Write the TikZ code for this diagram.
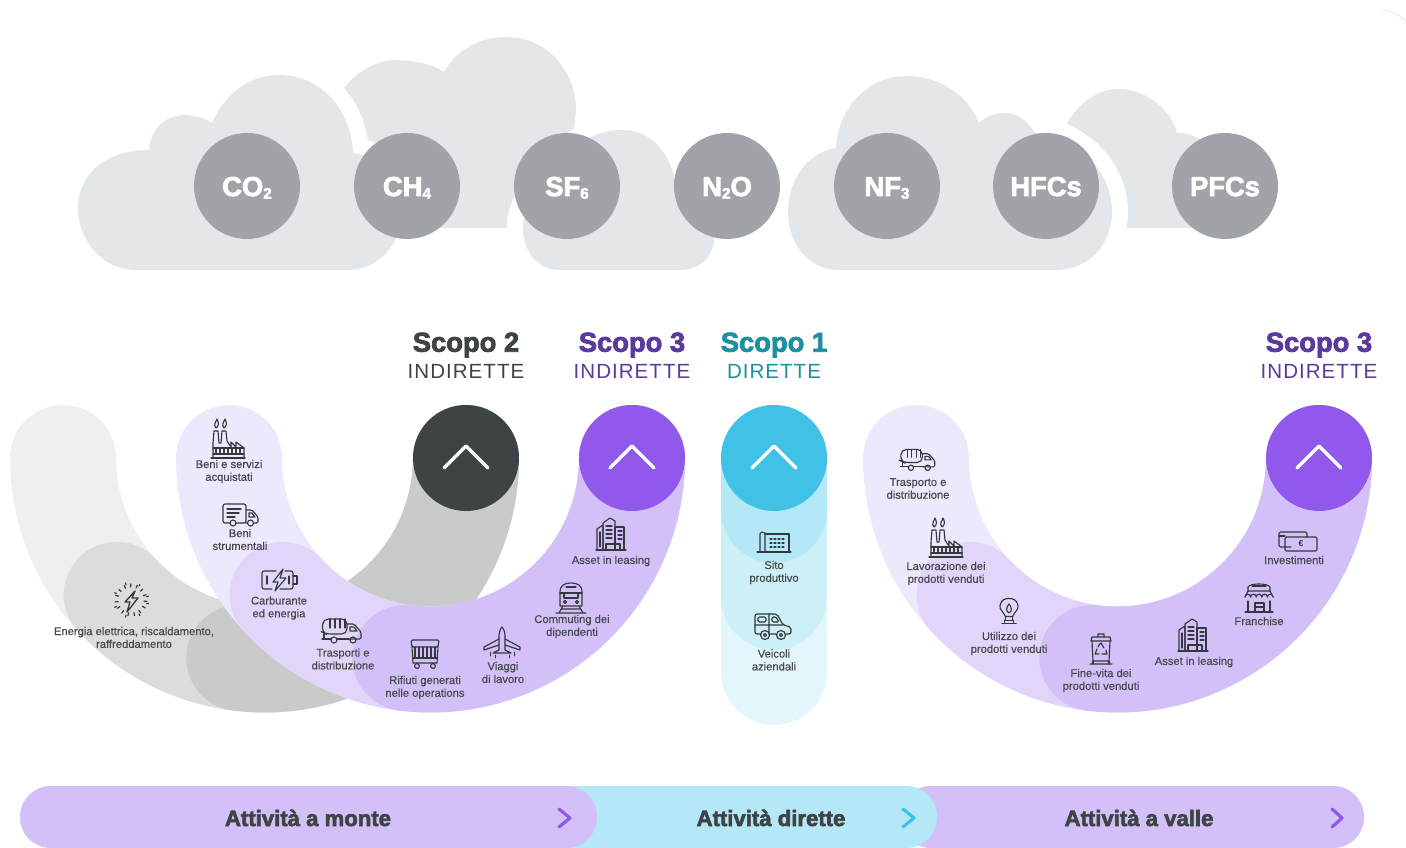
\documentclass[tikz,border=0pt]{standalone}
\usepackage{fontspec}
\setmainfont{Liberation Sans}
\newfontfamily\heavy[FakeBold=2.8]{Liberation Sans Bold}
\newfontfamily\lab[FakeBold=0.3]{Liberation Sans}
\definecolor{cloudc}{HTML}{E4E7EA}
\definecolor{gasc}{HTML}{A0A3A8}
\definecolor{gl}{HTML}{EEEFEF}
\definecolor{gm}{HTML}{DBDCDC}
\definecolor{gd}{HTML}{C9CBCA}
\definecolor{darkc}{HTML}{3E4345}
\definecolor{pl}{HTML}{EEE8FC}
\definecolor{pm}{HTML}{E1D6FA}
\definecolor{pd}{HTML}{D4C0F8}
\definecolor{pc}{HTML}{9059EC}
\definecolor{cl}{HTML}{E3F6FC}
\definecolor{cm}{HTML}{CDEFF8}
\definecolor{cd}{HTML}{B5E8F6}
\definecolor{cc}{HTML}{40C2E6}
\definecolor{tpurple}{HTML}{5B3A9E}
\definecolor{tteal}{HTML}{1E8FA0}
\definecolor{ink}{HTML}{33383B}
\definecolor{labc}{HTML}{44494C}
\definecolor{faint}{HTML}{E6E6E6}
\newcommand{\subs}[1]{\raisebox{-2pt}{\fontsize{11.5}{11.5}\selectfont #1}}
\newcommand{\gt}[1]{\raisebox{-7.5pt}[0pt][0pt]{#1}}
\tikzset{
 band/.style={line width=79.5pt,line cap=round,line join=round},
 gas/.style={circle,fill=gasc,minimum size=79.5pt,inner sep=0pt,text=white,font=\heavy\fontsize{20.5}{21}\selectfont},
 knob/.style={circle,minimum size=79.5pt,inner sep=0pt},
 vee/.style={draw=white,line width=2.6pt,line cap=round,line join=round},
 halo/.style={draw=white,line width=24pt,line join=round},
 cloudp/.style={fill=cloudc},
 lbl/.style={align=center,inner sep=0pt,text=labc,font=\lab\fontsize{8.4}{9.6}\selectfont},
 head/.style={inner sep=0pt,font=\heavy\fontsize{20.5}{22}\selectfont},
 sub/.style={inner sep=0pt,font=\addfontfeatures{LetterSpace=5}\fontsize{15.4}{16}\selectfont},
 barlab/.style={inner sep=0pt,text=darkc,font=\heavy\fontsize{16.6}{17}\selectfont},
 chev/.style={line width=2.4pt,line cap=round,line join=round},
 ico/.style={draw=ink,line width=0.85pt,line cap=round,line join=round},
}
\newcommand{\uband}[3]{\draw[band,draw=#1] plot[domain=#3:0,samples=70,variable=\t] ({#2+201.5*cos(\t)},{458+201.5*sin(\t)});}
\newcommand{\cloudA}{(136,270) .. controls (102,270) and (78,240) .. (78,208) .. controls (78,176) and (104,150) .. (149,150) .. controls (151,128) and (166,115) .. (185,115) .. controls (196,115) and (206,119) .. (212,123) .. controls (225,93) and (250,75) .. (279,75) .. controls (325,75) and (352,115) .. (353,153) .. controls (385,158) and (401,185) .. (401,213) .. controls (401,245) and (378,270) .. (348,270) -- cycle}
\newcommand{\cloudC}{(560,270) .. controls (538,270) and (523,252) .. (523,228) .. controls (523,205) and (535,190) .. (555,180) .. controls (565,150) and (590,130) .. (622,130) .. controls (650,130) and (668,150) .. (675,180) .. controls (700,190) and (714,215) .. (714,238) .. controls (714,256) and (700,270) .. (680,270) -- cycle}
\newcommand{\cloudD}{(839,270) .. controls (808,270) and (788,243) .. (788,212) .. controls (788,180) and (808,152) .. (836,148) .. controls (838,108) and (868,76) .. (906,76) .. controls (940,76) and (968,95) .. (979,123) .. controls (986,116) and (996,113) .. (1006,113) .. controls (1018,113) and (1028,122) .. (1035,133) .. controls (1075,135) and (1112,170) .. (1112,212) .. controls (1112,245) and (1088,270) .. (1056,270) -- cycle}
\newcommand{\icofactory}[2]{\begin{scope}[shift={(#1,#2)},ico]
 \draw (-17,19)--(17,19);
 \draw (-15,19)--(-15,4)--(-14,-8)--(-10,-8)--(-9,4)--(-7,4)--(-6,-8)--(-2,-8)--(-1,2)--(3,8)--(3,3)--(8,8)--(8,3)--(16,9)--(16,19);
 \draw (-15,9)--(16,9) (-15,15)--(16,15);
 \foreach \i in {-12,-8,...,14}{\draw (\i,10.5)--(\i,13.5);}
 \draw (-12,-11) .. controls (-15,-14) and (-12,-17) .. (-11,-20) .. controls (-9,-16) and (-9,-13) .. (-12,-11);
 \draw (-4,-11) .. controls (-7,-14) and (-4,-17) .. (-3,-20) .. controls (-1,-16) and (-1,-13) .. (-4,-11);
\end{scope}}
\newcommand{\icotruck}[2]{\begin{scope}[shift={(#1,#2)},ico]
 \draw[rounded corners=1.5pt] (-10,9)--(-17,9)--(-17,-10)--(6,-10)--(6,9)--(-4,9);
 \draw[rounded corners=1pt] (6,-4)--(12,-4)--(18,3)--(18,9)--(14,9) (6,9)--(7,9);
 \draw (-7,9) circle (3) (10.5,9) circle (3);
 \draw (-13,-5)--(1,-5) (-13,-1)--(-1,-1) (-13,3)--(-5,3);
 \draw (9,-1)--(12,-1)--(15,3)--(9,3)--cycle;
\end{scope}}
\newcommand{\icogarbage}[3][1]{\begin{scope}[shift={(#2,#3)},scale=#1,ico]
 \draw[rounded corners=4pt] (-16,4)--(-20,2)--(-19,-11)--(5,-11)--(5,4)--cycle;
 \foreach \i in {-12,-7,...,3}{\draw (\i,-11)--(\i,-2);}
 \draw[rounded corners=1pt] (5,-6)--(12,-6)--(19,2)--(19,9)--(5,9);
 \draw (8,-3)--(12,-3)--(15,1)--(8,1)--cycle;
 \draw (-20,9)--(-11,9) (-5,9)--(7,9) (-18,4)--(-18,9);
 \draw (-8,10) circle (3) (11,10) circle (3);
\end{scope}}
\newcommand{\icobattery}[2]{\begin{scope}[shift={(#1,#2)},ico]
 \draw[rounded corners=1.5pt] (-3,-9)--(-17,-9)--(-17,9)--(-7,9) (6,-9)--(14,-9)--(14,9)--(1,9);
 \draw (14,-4)--(18,-4)--(18,4)--(14,4);
 \draw (4,-11)--(-6,2)--(-1,2)--(-4,11)--(7,-2)--(1,-2)--cycle;
 \draw (-12,-4)--(-12,4) (10,-4)--(10,4);
\end{scope}}
\newcommand{\icoflash}[2]{\begin{scope}[shift={(#1,#2)},ico]
 \foreach \a in {0,24,...,350}{\draw[line width=0.9pt] (\a+5:13)--(\a+5:16);}
 \foreach \a in {12,60,...,350}{\draw (\a:16)--(\a:18);}
 \draw[line width=1pt] (4,-9)--(-6,2)--(-1,2)--(-4,12)--(7,-2)--(1,-2)--cycle;
\end{scope}}
\newcommand{\icodump}[2]{\begin{scope}[shift={(#1,#2)},ico]
 \draw[rounded corners=1pt] (-14,-14)--(14,-14)--(13,-7)--(-13,-7)--cycle;
 \foreach \i in {-10,-6,...,10}{\draw (\i,-7)--(\i,3);}
 \draw (-13,-7)--(-12,9)--(12,9)--(13,-7);
 \draw (-12,4)--(12,4);
 \draw (-8,12) circle (2.4) (8,12) circle (2.4);
\end{scope}}
\newcommand{\icoplane}[2]{\begin{scope}[shift={(#1,#2)},ico]
 \draw (-3,-6) .. controls (-3,-11) and (-1,-14) .. (0,-15) .. controls (1,-14) and (3,-11) .. (3,-6)--(3,8)--(9,11)--(-9,11)--(-3,8)--cycle;
 \draw (-3,-3)--(-18,5)--(-18,8)--(-3,3) (3,-3)--(18,5)--(18,8)--(3,3);
 \draw[line width=0.5pt] (-12,10)--(-12,14) (-7,13)--(-7,16) (7,13)--(7,16) (12,10)--(12,14);
\end{scope}}
\newcommand{\icotrain}[2]{\begin{scope}[shift={(#1,#2)},ico]
 \draw (-11,8)--(-11,-6) .. controls (-11,-13) and (-6,-15) .. (0,-15) .. controls (6,-15) and (11,-13) .. (11,-6)--(11,8)--cycle;
 \draw (-11,-5)--(11,-5) (-5,-11)--(5,-11) (-7,-5)--(-7,0)--(7,0)--(7,-5);
 \draw (-6,4) circle (1.5) (6,4) circle (1.5);
 \draw (-15,15)--(15,15) (-8,8)--(-12,15) (8,8)--(12,15) (-9,11)--(9,11);
\end{scope}}
\newcommand{\icobuilding}[2]{\begin{scope}[shift={(#1,#2)},ico]
 \draw (-14,15)--(-14,-6)--(-8,-10)--(-8,15);
 \draw (-8,15)--(-8,-12)--(-1,-17)--(4,-14)--(4,15);
 \draw (4,15)--(4,-8)--(13,-8)--(13,15);
 \draw (-15,15)--(15,15);
 \draw (-5,15)--(-5,9)--(9,9)--(9,15);
 \foreach \y in {-9,-5,...,6}{\draw (-5,\y)--(1,\y);}
 \foreach \y in {-4,0,...,6}{\draw (7,\y)--(11,\y);}
 \draw (-11,-3)--(-11,12);
\end{scope}}
\newcommand{\icosite}[2]{\begin{scope}[shift={(#1,#2)},ico]
 \draw (-14,10)--(-14,-8) .. controls (-14,-10) and (-11,-11) .. (-9,-9)--(-9,10);
 \draw (-9,-8)--(15,-8)--(15,10);
 \draw (-17,10)--(17,10);
 \foreach \y in {-3,1,5}{\foreach \x in {-4,0,...,10}{\draw (\x,\y)--(\x+2,\y);}}
\end{scope}}
\newcommand{\icocar}[2]{\begin{scope}[shift={(#1,#2)},ico]
 \draw[rounded corners=1.5pt] (-12,7)--(-18,7)--(-18,-13)--(4,-13)--(10,-2)--(18,0)--(18,7)--(13,7) (-3,7)--(3,7);
 \draw[rounded corners=1pt] (-18,-2)--(10,-2) (-4,-13)--(-4,7) (-15,-10)--(-7,-10)--(-7,-5)--(-15,-5)--cycle (-1,-10)--(3,-10)--(6,-5)--(-1,-5)--cycle;
 \draw (-8,8) circle (4.5) (-8,8) circle (1.6) (8,8) circle (4.5) (8,8) circle (1.6);
\end{scope}}
\newcommand{\icomoney}[2]{\begin{scope}[shift={(#1,#2)},ico]
 \draw[rounded corners=1pt] (-7,7)--(-19,7)--(-19,-8)--(9,-8)--(9,-3);
 \draw[rounded corners=1pt] (-13,-3)--(19,-3)--(19,11)--(-13,11)--cycle;
 \draw (-19,-4)--(-13,-4);
 \node[inner sep=0pt,font=\bfseries\fontsize{6.5}{7}\selectfont,text=ink] (eur#1) at (3,4) {€};
\end{scope}}
\newcommand{\icoshop}[2]{\begin{scope}[shift={(#1,#2)},ico]
 \draw (-11,-7)--(-11,-11) .. controls (-9,-15) and (9,-15) .. (11,-11)--(11,-7);
 \draw (-14,-1)--(-11,-7)--(11,-7)--(14,-1);
 \draw (-14,-1) arc[start angle=180,end angle=360,radius=2.8] arc[start angle=180,end angle=360,radius=2.8] arc[start angle=180,end angle=360,radius=2.8] arc[start angle=180,end angle=360,radius=2.8] arc[start angle=180,end angle=360,radius=2.8];
 \draw (-11,3)--(-11,14)--(11,14)--(11,3) (-14,14)--(14,14);
 \draw (-4,14)--(-4,5)--(5,5)--(5,14) (-4,9)--(5,9) (-7,-12)--(7,-12);
\end{scope}}
\newcommand{\icobin}[2]{\begin{scope}[shift={(#1,#2)},ico]
 \draw (-9,-11)--(9,-11)--(10,-7)--(-10,-7)--cycle (-3,-11)--(-3,-14)--(3,-14)--(3,-11);
 \draw (-9,-7)--(-8,13)--(8,13)--(9,-7) (-11,16)--(11,16);
 \draw (-8,13)--(-8,16) (8,13)--(8,16);
 \draw (-2,-3)--(0,-5)--(3,0) (5,2)--(6,6)--(1,6) (-2,6)--(-6,6)--(-4,1)(-3,-1)--(-2,-3);
\end{scope}}
\newcommand{\icobulb}[2]{\begin{scope}[shift={(#1,#2)},scale=0.9,ico]
 \draw (-4,5) .. controls (-6,0) and (-11,-3) .. (-10,-7) .. controls (-9,-14) and (-4,-15) .. (0,-15) .. controls (4,-15) and (9,-14) .. (10,-7) .. controls (11,-3) and (6,0) .. (4,5)--cycle;
 \draw (-4,5)--(-4,9)--(4,9)--(4,5) (-8,13)--(8,13) (-5,9)--(-5,13) (5,9)--(5,13);
 \draw (0,1) .. controls (-4,-1) and (-3,-5) .. (0,-9) .. controls (3,-5) and (4,-1) .. (0,1);
\end{scope}}
\begin{document}
\begin{tikzpicture}[x=0.75pt,y=-0.75pt]
\useasboundingbox (0,0) rectangle (1406,848);
\fill[white] (0,0) rectangle (1406,848);
\draw[faint,line width=0.6pt] (1383,10) .. controls (1392,11) and (1400,15) .. (1406,22);
% back clouds
\fill[cloudp] (330,115) .. controls (340,80) and (372,60) .. (395,60) .. controls (414,60) and (432,64) .. (444,72) .. controls (456,50) and (480,37) .. (506,37) .. controls (548,37) and (576,72) .. (576,110) -- (573,140) -- (560,228) -- (330,228) -- cycle;
\fill[cloudp] (1060,140) .. controls (1070,108) and (1095,89) .. (1118,89) .. controls (1145,89) and (1170,108) .. (1177,133) .. controls (1190,132) and (1205,140) .. (1215,155) -- (1215,228) -- (1090,228) -- cycle;
% front clouds: white halo first, then the fill
\path[halo] \cloudC; \fill[cloudp] \cloudC;
\path[halo] \cloudA; \fill[cloudp] \cloudA;
\path[halo] \cloudD; \fill[cloudp] \cloudD;
% gas circles
\node[gas] (co) at (247,186) {\gt{CO\subs{2}}};
\node[gas] (ch) at (407,186) {\gt{CH\subs{4}}};
\node[gas] (sf) at (567,186) {\gt{SF\subs{6}}};
\node[gas] (no) at (727,186) {\gt{N\subs{2}O}};
\node[gas] (nf) at (887,186) {\gt{NF\subs{3}}};
\node[gas] (hf) at (1046,186) {\gt{HFCs}};
\node[gas] (pf) at (1225,186) {\gt{PFCs}};
% headers
\node[head,text=darkc] (s2) at (466,345) {Scopo 2};
\node[sub,text=darkc] (s2b) at (466,371) {INDIRETTE};
\node[head,text=tpurple] (s3) at (632,345) {Scopo 3};
\node[sub,text=tpurple] (s3b) at (632,371) {INDIRETTE};
\node[head,text=tteal] (s1) at (774,345) {Scopo 1};
\node[sub,text=tteal] (s1b) at (774,371) {DIRETTE};
\node[head,text=tpurple] (s4) at (1319,345) {Scopo 3};
\node[sub,text=tpurple] (s4b) at (1319,371) {INDIRETTE};
% bands
\uband{gl}{264.5}{180}
\uband{gm}{264.5}{137.2}
\uband{gd}{264.5}{97.2}
\uband{pl}{430.5}{180}
\uband{pm}{430.5}{137.2}
\uband{pd}{430.5}{97.2}
\uband{pl}{1117.5}{180}
\uband{pm}{1117.5}{137.2}
\uband{pd}{1117.5}{97.2}
\draw[band,draw=cl] (774,458)--(774,672);
\draw[band,draw=cm] (774,458)--(774,597);
\draw[band,draw=cd] (774,458)--(774,510);
% knobs
\node[knob,fill=darkc] (k1) at (466,458) {};
\node[knob,fill=pc] (k2) at (632,458) {};
\node[knob,fill=cc] (k3) at (774,458) {};
\node[knob,fill=pc] (k4) at (1319,458) {};
\draw[vee] (444,468)--(466,446)--(488,468);
\draw[vee] (610,468)--(632,446)--(654,468);
\draw[vee] (752,468)--(774,446)--(796,468);
\draw[vee] (1297,468)--(1319,446)--(1341,468);
% icons
\icoflash{131}{600}
\icofactory{228}{439}
\icotruck{240}{514}
\icobattery{279}{580}
\icogarbage{342}{630}
\icodump{425}{654}
\icoplane{502}{642}
\icotrain{571}{598}
\icobuilding{611}{535}
\icosite{774}{542}
\icocar{773}{627}
\icogarbage[0.88]{918}{459}
\icofactory{946}{538}
\icobulb{1009}{612}
\icobin{1101}{648}
\icobuilding{1193}{636}
\icoshop{1259}{598}
\icomoney{1298}{540}
% labels
\node[lbl] (l1) at (134,637.5) {Energia elettrica, riscaldamento,\\raffreddamento};
\node[lbl] (l2) at (229,471.5) {Beni e servizi\\acquistati};
\node[lbl] (l3) at (240,539.5) {Beni\\strumentali};
\node[lbl] (l4) at (279,608) {Carburante\\ed energia};
\node[lbl] (l5) at (343,659) {Trasporti e\\distribuzione};
\node[lbl] (l6) at (425,687.5) {Rifiuti generati\\nelle operations};
\node[lbl] (l7) at (503,672.5) {Viaggi\\di lavoro};
\node[lbl] (l8) at (572,626.5) {Commuting dei\\dipendenti};
\node[lbl] (l9) at (611,561) {Asset in leasing};
\node[lbl] (l10) at (774,572.5) {Sito\\produttivo};
\node[lbl] (l11) at (774,660) {Veicoli\\aziendali};
\node[lbl] (l12) at (918,488.5) {Trasporto e\\distribuzione};
\node[lbl] (l13) at (946,573.5) {Lavorazione dei\\prodotti venduti};
\node[lbl] (l14) at (1009,643.5) {Utilizzo dei\\prodotti venduti};
\node[lbl] (l15) at (1101,680.5) {Fine-vita dei\\prodotti venduti};
\node[lbl] (l16) at (1194,662) {Asset in leasing};
\node[lbl] (l17) at (1259,621) {Franchise};
\node[lbl] (l18) at (1294,560) {Investimenti};
% bottom bar
\fill[pd,rounded corners=23pt] (900,786) rectangle (1364,848);
\fill[cd,rounded corners=23pt] (540,786) rectangle (937,848);
\fill[pd,rounded corners=23pt] (20,786) rectangle (597,848);
\node[barlab] (b1) at (308,818) {Attività a monte};
\node[barlab] (b2) at (771,818) {Attività dirette};
\node[barlab] (b3) at (1139,818) {Attività a valle};
\draw[chev,draw=pc] (559,809)--(570,818)--(559,827);
\draw[chev,draw=cc] (903,809)--(914,818)--(903,827);
\draw[chev,draw=pc] (1332,809)--(1342,818)--(1332,827);
\end{tikzpicture}
\end{document}
